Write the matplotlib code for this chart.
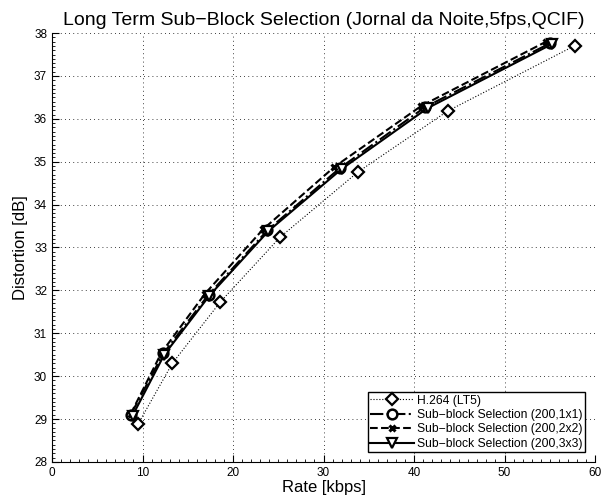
import numpy as np
import matplotlib.pyplot as plt
from matplotlib.ticker import MultipleLocator, AutoMinorLocator

plt.rcParams['font.family'] = ['Liberation Sans', 'DejaVu Sans']

# rate [kbps] / distortion [dB]
rate_h264 = [9.5, 13.3, 18.6, 25.2, 33.8, 43.7, 57.8]
dist_h264 = [28.88, 30.30, 31.73, 33.24, 34.76, 36.18, 37.71]

rate_1x1 = [8.7, 12.3, 17.3, 23.8, 31.8, 41.2, 55.0]
dist_1x1 = [29.10, 30.53, 31.90, 33.40, 34.85, 36.27, 37.76]

rate_2x2 = [8.7, 12.1, 16.9, 23.3, 31.2, 40.8, 54.6]
dist_2x2 = [29.12, 30.55, 31.92, 33.42, 34.88, 36.30, 37.80]

rate_3x3 = [8.9, 12.4, 17.4, 23.9, 32.0, 41.5, 55.3]
dist_3x3 = [29.08, 30.50, 31.88, 33.38, 34.83, 36.25, 37.75]

labels = ['H.264 (LT5)',
          'Sub\u2212block Selection (200,1x1)',
          'Sub\u2212block Selection (200,2x2)',
          'Sub\u2212block Selection (200,3x3)']

fig = plt.figure(figsize=(6.02, 5.01), dpi=100)
ax = fig.add_axes([0.0864, 0.078, 0.902, 0.856])

ax.plot(rate_h264, dist_h264, linestyle=':', color='k', linewidth=0.8,
        marker='D', markersize=6, markerfacecolor='white', markeredgewidth=1.6,
        label=labels[0])
ax.plot(rate_1x1, dist_1x1, linestyle='-.', color='k', linewidth=1.5,
        marker='o', markersize=7, markerfacecolor='white', markeredgewidth=1.8,
        label=labels[1])
ax.plot(rate_2x2, dist_2x2, linestyle='--', color='k', linewidth=1.5,
        marker='x', markersize=5, markeredgewidth=2.2,
        label=labels[2])
ax.plot(rate_3x3, dist_3x3, linestyle='-', color='k', linewidth=1.5,
        marker='v', markersize=7, markerfacecolor='white', markeredgewidth=1.6,
        label=labels[3])

ax.set_xlim(0, 60)
ax.set_ylim(28, 38)
ax.xaxis.set_major_locator(MultipleLocator(10))
ax.yaxis.set_major_locator(MultipleLocator(1))
ax.xaxis.set_minor_locator(AutoMinorLocator(10))
ax.yaxis.set_minor_locator(AutoMinorLocator(10))
ax.spines['top'].set_visible(False)
ax.spines['right'].set_visible(False)
ax.tick_params(which='both', direction='in', labelsize=8.5)
ax.tick_params(which='major', length=5)
ax.tick_params(which='minor', length=2.5)
ax.grid(True, which='major', linestyle=(0, (1, 4)), color='k', linewidth=0.6)

ax.set_xlabel('Rate [kbps]', fontsize=12, labelpad=1)
ax.set_ylabel('Distortion [dB]', fontsize=12, labelpad=4)
ax.set_title('Long Term Sub\u2212Block Selection (Jornal da Noite,5fps,QCIF)',
             fontsize=14, pad=6)

leg = ax.legend(loc='lower right', fontsize=8.7, fancybox=False, framealpha=1,
                edgecolor='k', borderaxespad=0.8, handlelength=3.6,
                labelspacing=0.2, borderpad=0.2, handletextpad=0.3)
leg.get_frame().set_linewidth(1.0)

fig.savefig('out.png', dpi=100)
